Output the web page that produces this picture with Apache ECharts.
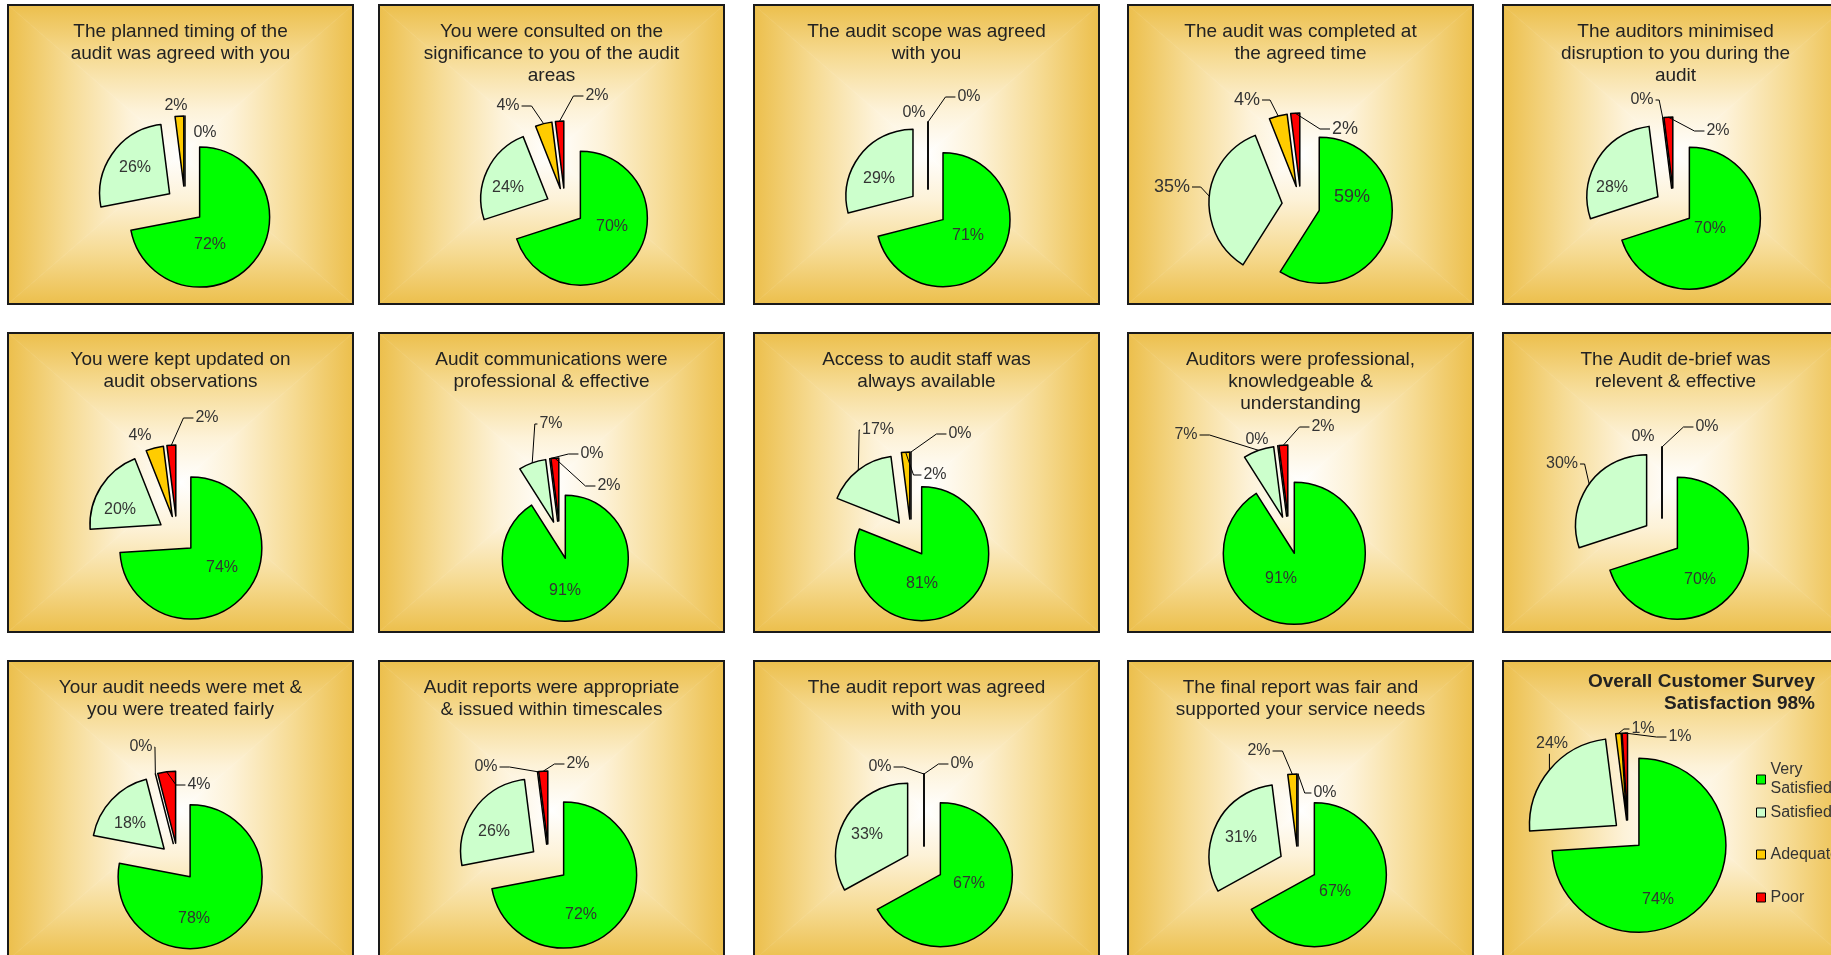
<!DOCTYPE html>
<html><head><meta charset="utf-8">
<script src="https://cdn.jsdelivr.net/npm/echarts@6/dist/echarts.min.js"></script>
<style>html,body{margin:0;padding:0;background:#fff;} #c{width:1831px;height:955px;}</style>
</head><body><div id="c"></div>
<script>
// ---- data ----
const categories = ['Very Satisfied', 'Satisfied', 'Adequate', 'Poor'];
const titles = [
  'The planned timing of the\naudit was agreed with you',
  'You were consulted on the\nsignificance to you of the audit\nareas',
  'The audit scope was agreed\nwith you',
  'The audit was completed at\nthe agreed time',
  'The auditors minimised\ndisruption to you during the\naudit',
  'You were kept updated on\naudit observations',
  'Audit communications were\nprofessional & effective',
  'Access to audit staff was\nalways available',
  'Auditors were professional,\nknowledgeable &\nunderstanding',
  'The Audit de-brief was\nrelevent & effective',
  'Your audit needs were met &\nyou were treated fairly',
  'Audit reports were appropriate\n& issued within timescales',
  'The audit report was agreed\nwith you',
  'The final report was fair and\nsupported your service needs',
  'Overall Customer Survey\nSatisfaction 98%'
];
const verySatisfied = [72, 70, 71, 59, 70, 74, 91, 81, 91, 70, 78, 72, 67, 67, 74];
const satisfied     = [26, 24, 29, 35, 28, 20,  7, 17,  7, 30, 18, 26, 33, 31, 24];
const adequate      = [ 2,  4,  0,  4,  0,  4,  0,  2,  0,  0,  0,  0,  0,  2,  1];
const poor          = [ 0,  2,  0,  2,  2,  2,  2,  0,  2,  0,  4,  2,  0,  0,  1];

// ---- layout / style ----
const colors = ['#00FF00', '#CCFFCC', '#FFCC00', '#FF0000'];
const colX = [8, 379, 754, 1128, 1503];
const rowY = [5, 333, 661];
const panelW = 345, panelH = 299;
// pie centre offset within panel, radius, explode distance
const pieLayout = [
  [177, 200, 70, 19], [186, 202, 67, 19], [174, 203, 67, 19], [173, 200, 73, 19], [171, 202, 71, 19],
  [169, 202, 71, 19], [181, 207, 63, 19], [157, 205, 67, 19], [161, 202, 71, 19], [159, 204, 71, 19],
  [170, 201, 72, 19], [170, 202, 73, 19], [170, 204, 72, 19], [170, 204, 72, 19], [125, 174, 87, 15]
];
// label offsets from pie centre per category; 3rd entry 1 = draw leader line
const labelPos = [
  [[25, 40], [-50, -37], [-9, -99, 0], [20, -72, 0]],
  [[47, 20], [-57, -19], [-57, -101, 1], [32, -111, 1]],
  [[40, 28], [-49, -29], [-14, -95, 0], [41, -111, 1]],
  [[51, -8], [-129, -18, 1], [-54, -105, 1], [44, -76, 1]],
  [[36, 22], [-62, -19], [-32, -107, 1], [44, -76, 1]],
  [[45, 33], [-57, -25], [-37, -99, 0], [30, -117, 1]],
  [[5, 51], [-9, -116, 1], [32, -86, 1], [49, -54, 1]],
  [[11, 46], [-33, -108, 1], [24, -63, 1], [49, -104, 1]],
  [[-8, 44], [-103, -100, 1], [-32, -95, 0], [34, -108, 1]],
  [[38, 43], [-100, -73, 1], [-19, -100, 0], [45, -110, 1]],
  [[16, 57], [-48, -38], [-37, -115, 1], [21, -77, 1]],
  [[32, 52], [-55, -31], [-63, -96, 1], [29, -99, 1]],
  [[45, 19], [-57, -30], [-44, -98, 1], [38, -101, 1]],
  [[37, 27], [-57, -27], [-39, -114, 1], [27, -72, 1]],
  [[30, 65], [-76, -91, 1], [15, -106, 1], [52, -98, 1]]
];
const labelFontSize = [16, 16, 16, 18, 16, 16, 16, 16, 16, 16, 16, 16, 16, 16, 16];

const FONT = 'Arial, "Liberation Sans", Helvetica, sans-serif';
const values = [verySatisfied, satisfied, adequate, poor];

function grad(x, y, x2, y2) {
  return { type: 'linear', x, y, x2, y2, colorStops: [
    { offset: 0, color: '#ECBF4C' },
    { offset: 0.35, color: '#F6DB94' },
    { offset: 0.7, color: '#FDF2D8' },
    { offset: 1, color: '#FFFFFF' }
  ] };
}
function panelBg(x, y, w, h) {
  const cx = x + w / 2, cy = y + h / 2;
  const tri = (pts, g) => ({ type: 'polygon', silent: true, z: 0,
    shape: { points: pts }, style: { fill: g, stroke: g, lineWidth: 0.6 } });
  return [
    tri([[x, y], [x + w, y], [cx, cy]], grad(0, 0, 0, 1)),
    tri([[x, y + h], [x + w, y + h], [cx, cy]], grad(0, 1, 0, 0)),
    tri([[x, y], [x, y + h], [cx, cy]], grad(0, 0, 1, 0)),
    tri([[x + w, y], [x + w, y + h], [cx, cy]], grad(1, 0, 0, 0)),
    { type: 'rect', silent: true, z: 1, shape: { x, y, width: w, height: h },
      style: { fill: 'none', stroke: '#1a1a1a', lineWidth: 2 } }
  ];
}
function textWidth(s, fs) {
  let w = 0;
  for (const ch of s) w += (ch === '%' ? 0.889 : 0.556);
  return w * fs;
}

const graphics = [];
const labelGraphics = [];
const titleOpts = [];
const series = [];
titles.forEach((t, i) => {
  const col = i % 5, row = Math.floor(i / 5);
  const px = colX[col], py = rowY[row];
  graphics.push(...panelBg(px, py, panelW, panelH));
  const last = i === titles.length - 1;
  titleOpts.push(last ? {
    text: t, left: 1815, top: py + 10, textAlign: 'right', padding: 0,
    textStyle: { fontFamily: FONT, fontSize: 19, fontWeight: 'bold', lineHeight: 22, color: '#222' }
  } : {
    text: t, left: px + panelW / 2, top: py + 16, textAlign: 'center', padding: 0,
    textStyle: { fontFamily: FONT, fontSize: 19, fontWeight: 'normal', lineHeight: 22, color: '#222' }
  });
  const [ox, oy, r, e] = pieLayout[i];
  const C = [px + ox, py + oy];
  const fs = labelFontSize[i];
  const total = values.reduce((s, arr) => s + arr[i], 0);
  let cum = 0;
  categories.forEach((c, k) => {
    const v = values[k][i];
    const mid = (cum + v / 2) / total * 2 * Math.PI;
    cum += v;
    const lp = labelPos[i][k];
    const lx = C[0] + lp[0], ly = C[1] + lp[1];
    const txt = v + '%';
    labelGraphics.push({ type: 'text', silent: true, z: 100, x: lx, y: ly,
      style: { text: txt, fontFamily: FONT, fontSize: fs, fill: '#333',
               align: 'center', verticalAlign: 'middle' } });
    if (lp[2]) {
      const p0 = [C[0] + (e + r) * Math.sin(mid), C[1] - (e + r) * Math.cos(mid)];
      const w = textWidth(txt, fs), h = fs * 1.1;
      let p1, p2;
      if (p0[0] < lx - w / 2) {
        p2 = [lx - w / 2 - 2, ly];
        p1 = [p2[0] - Math.min(Math.abs(p0[0] - p2[0]) * 0.5, 10), ly];
      } else if (p0[0] > lx + w / 2) {
        p2 = [lx + w / 2 + 2, ly];
        p1 = [p2[0] + Math.min(Math.abs(p0[0] - p2[0]) * 0.5, 10), ly];
      } else {
        p2 = [p0[0], p0[1] > ly ? ly + h / 2 + 1 : ly - h / 2 - 1];
        p1 = p2;
      }
      labelGraphics.push({ type: 'polyline', silent: true, z: 99,
        shape: { points: [p0, p1, p2] },
        style: { stroke: '#000', lineWidth: 1, fill: 'none' } });
    }
  });

  series.push({
    type: 'pie',
    center: C,
    radius: r,
    startAngle: 90,
    clockwise: true,
    selectedMode: 'multiple',
    selectedOffset: e,
    animation: false,
    emphasis: { disabled: true },
    itemStyle: { borderColor: '#000', borderWidth: 1.5 },
    label: { show: false },
    labelLine: { show: false },
    data: categories.map((c, k) => ({
      name: c, value: values[k][i], selected: true,
      itemStyle: { color: colors[k] }
    }))
  });
});

const legendBase = {
  orient: 'vertical', left: 1751, itemWidth: 9, itemHeight: 9, selectedMode: false,
  icon: 'rect', itemStyle: { borderColor: '#000', borderWidth: 1 },
  textStyle: { fontFamily: FONT, fontSize: 16, color: '#333', lineHeight: 19 }
};
const legendTops = [746, 798, 840, 883];
const legends = categories.map((c, k) => Object.assign({}, legendBase, {
  data: [c], top: legendTops[k],
  formatter: k === 0 ? 'Very\nSatisfied' : '{name}',
  textStyle: Object.assign({}, legendBase.textStyle, k === 0 ? { padding: [19, 0, 0, 0] } : {})
}));

const chart = echarts.init(document.getElementById('c'));
chart.setOption({
  backgroundColor: '#fff',
  animation: false,
  color: colors,
  title: titleOpts,
  legend: legends,
  graphic: { elements: graphics.concat(labelGraphics) },
  series
});
</script></body></html>
